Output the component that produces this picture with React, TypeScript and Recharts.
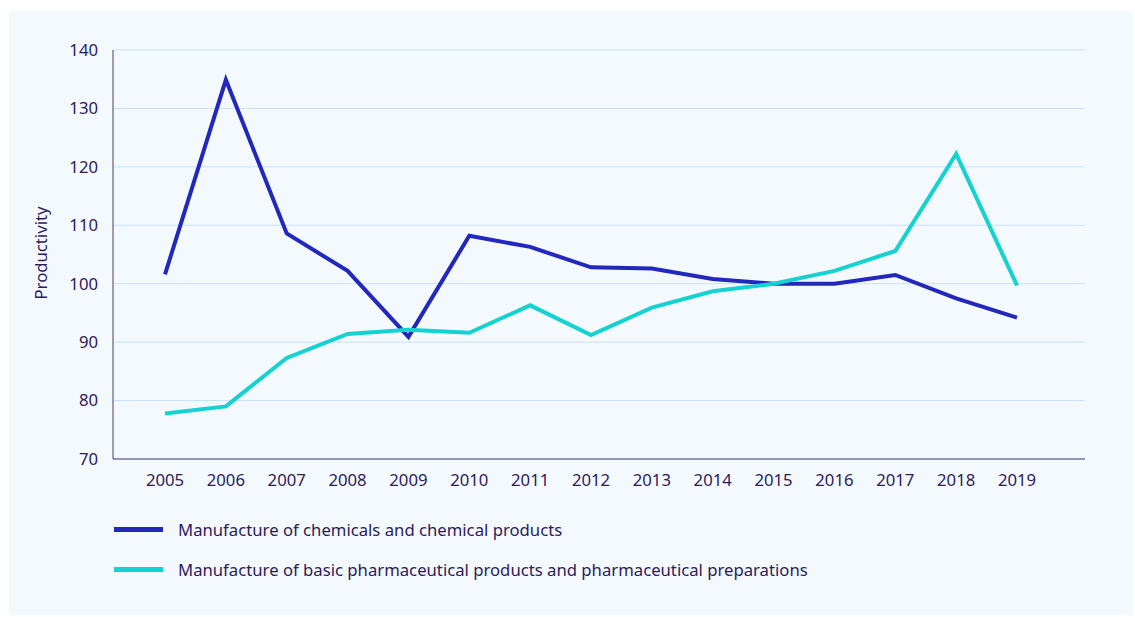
import { LineChart, Line, XAxis, YAxis, CartesianGrid, Legend } from "recharts"

const years = ["2005", "2006", "2007", "2008", "2009", "2010", "2011", "2012", "2013", "2014", "2015", "2016", "2017", "2018", "2019"]
const chemicals = [101.6, 134.9, 108.6, 102.2, 90.9, 108.2, 106.3, 102.8, 102.6, 100.8, 100.0, 100.0, 101.5, 97.5, 94.2]
const pharma = [77.8, 79.0, 87.3, 91.4, 92.1, 91.6, 96.3, 91.2, 95.9, 98.7, 100.0, 102.2, 105.6, 122.2, 99.7]
const yTicks = [70, 80, 90, 100, 110, 120, 130, 140]

const seriesNames = {
  chemicals: "Manufacture of chemicals and chemical products",
  pharma: "Manufacture of basic pharmaceutical products and pharmaceutical preparations",
}

const data = years.map((year, i) => ({ year, chemicals: chemicals[i], pharma: pharma[i] }))

const textColor = "#2d1b5c"
const font = "'Noto Sans', sans-serif"
const fs = 16.7

function LegendBox({ payload }: any) {
  return (
    <div style={{ height: 100, paddingTop: 28, paddingLeft: 105, boxSizing: "border-box", fontFamily: font, fontSize: fs, color: textColor }}>
      {(payload || []).map((item: any) => (
        <div key={item.value} style={{ display: "flex", alignItems: "center", height: 24, marginBottom: 16 }}>
          <span style={{ display: "inline-block", width: 49, height: 5, background: item.color, marginRight: 15 }} />
          <span>{seriesNames[item.dataKey as keyof typeof seriesNames]}</span>
        </div>
      ))}
    </div>
  )
}

export default function App() {
  return (
    <div style={{ position: "absolute", left: 9, top: 11, width: 1124, height: 604, background: "#f4f9fd" }}>
      <LineChart width={1124} height={604} data={data} margin={{ top: 39, right: 48, left: 0, bottom: 26 }}>
        <CartesianGrid vertical={false} stroke="#c8e1f7" strokeWidth={1} />
        <XAxis
          dataKey="year"
          padding={{ left: 52, right: 68 }}
          tickLine={false}
          tickMargin={9}
          stroke="#4b3a74"
          tick={{ fill: textColor, fontSize: fs, fontFamily: font }}
        />
        <YAxis
          domain={[70, 140]}
          ticks={yTicks}
          width={104}
          tickLine={false}
          tickMargin={9}
          stroke="#4b3a74"
          tick={{ fill: textColor, fontSize: fs, fontFamily: font }}
          label={{ value: "Productivity", angle: -90, position: "insideLeft", offset: 32, fill: textColor, fontSize: fs, fontFamily: font, dy: 45 }}
        />
        <Legend verticalAlign="bottom" align="left" content={<LegendBox />} />
        <Line dataKey="chemicals" stroke="#2128bb" strokeWidth={4} dot={false} isAnimationActive={false} />
        <Line dataKey="pharma" stroke="#14d2d0" strokeWidth={4} dot={false} isAnimationActive={false} />
      </LineChart>
    </div>
  )
}
